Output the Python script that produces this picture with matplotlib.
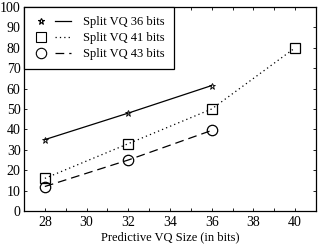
import numpy as np
import matplotlib.pyplot as plt
from matplotlib.lines import Line2D
from matplotlib.legend_handler import HandlerTuple
from matplotlib.ticker import MultipleLocator

plt.rcParams['font.family'] = ['Liberation Serif', 'DejaVu Serif']
plt.rcParams['font.size'] = 10

# data
vq_size_36 = [28, 32, 36]
pct_36 = [35, 48, 61.5]
vq_size_41 = [28, 32, 36, 40]
pct_41 = [16, 33, 50, 80]
vq_size_43 = [28, 32, 36]
pct_43 = [12, 25, 39.5]
labels = ['Split VQ 36 bits', 'Split VQ 41 bits', 'Split VQ 43 bits']

fig = plt.figure(figsize=(3.22, 2.46), dpi=100)
ax = fig.add_axes([24/322, 35/246, 292/322, 204/246])

ax.plot(vq_size_36, pct_36, color='k', lw=0.9, ls='-', marker='*', ms=5, mew=0.6, fillstyle='none')
ax.plot(vq_size_41, pct_41, color='k', lw=0.9, ls=(0, (1, 2.5)), marker='s', ms=7.5, mew=0.9, fillstyle='none')
ax.plot(vq_size_43, pct_43, color='k', lw=0.9, ls=(0, (7, 4)), marker='o', ms=7.5, mew=0.9, fillstyle='none')

ax.set_xlim(27, 41)
ax.set_ylim(0, 100)
ax.xaxis.set_major_locator(MultipleLocator(2))
ax.xaxis.set_minor_locator(MultipleLocator(1))
ax.yaxis.set_major_locator(MultipleLocator(10))
ax.tick_params(which='both', direction='in', top=True, right=True, length=2.5, width=0.6, labelsize=10)
ax.tick_params(axis='y', pad=2.5)
for sp in ax.spines.values():
    sp.set_linewidth(0.9)

ax.set_xlabel('Predictive VQ Size (in bits)', fontsize=9, labelpad=2)
ax.set_ylabel('% Predictable vectors', fontsize=10)
ax.yaxis.set_label_coords(-0.075, 0.5)

# matlab style legend: marker, then line, then text
styles = [('*', '-', 5), ('s', (0, (1, 2.5)), 7.5), ('o', (0, (7, 4)), 7.5)]
handles = []
for mk, ls, ms in styles:
    m = Line2D([], [], color='k', marker=mk, ls='none', ms=ms, mew=0.8, fillstyle='none')
    l = Line2D([], [], color='k', ls=ls, lw=0.9)
    handles.append((m, l))
leg = ax.legend(handles, labels, handler_map={tuple: HandlerTuple(ndivide=None, pad=0.48)},
                loc='upper left', bbox_to_anchor=(0, 1), borderaxespad=0, handlelength=3.0,
                fancybox=False, edgecolor='k', framealpha=1, labelspacing=0.3, borderpad=0.75,
                handletextpad=1.0, fontsize=9)
leg.get_frame().set_linewidth(0.9)

fig.savefig('out.png', dpi=100)
